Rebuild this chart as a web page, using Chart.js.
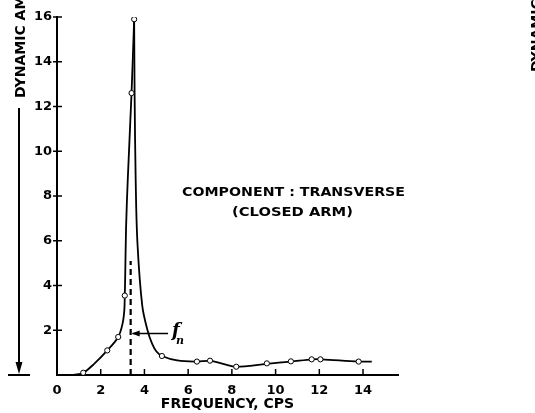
<!DOCTYPE html>
<html>
<head>
<meta charset="utf-8">
<script src="https://cdn.jsdelivr.net/npm/chart.js@4.4.0/dist/chart.umd.min.js"></script>
<style>
    html, body { margin: 0; padding: 0; background: #fff; }
    #wrap { width: 535px; height: 413px; }
</style>
</head>
<body>
<div id="wrap"><canvas id="chart" width="535" height="413"></canvas></div>
<script>
// Measured points (circles)
const pointFreq = [1.2, 2.3, 2.8, 3.1, 3.41, 3.53, 4.8, 6.4, 7.0, 8.2, 9.6, 10.7, 11.65, 12.05, 13.8];
const pointAmp  = [0.1, 1.1, 1.7, 3.55, 12.6, 15.9, 0.85, 0.6, 0.64, 0.37, 0.52, 0.61, 0.7, 0.7, 0.6];

// Faired response curve (rising side, then falling side)
const riseFreq = [0.76, 1.2, 1.7, 2.3, 2.8, 3.0, 3.08, 3.1, 3.12, 3.16, 3.24, 3.41, 3.53];
const riseAmp  = [0, 0.1, 0.5, 1.1, 1.7, 2.3, 2.9, 3.55, 4.4, 6.6, 8.8, 12.6, 15.9];
const fallFreq = [3.53, 3.55, 3.6, 3.68, 3.9, 4.14, 4.35, 4.55, 4.8, 5.5, 6.4, 7.0, 7.6, 8.2, 9.6, 10.7, 11.7, 12.1, 13.8, 14.4];
const fallAmp  = [15.9, 12.6, 8.7, 5.9, 3.1, 2, 1.4, 1.05, 0.85, 0.65, 0.6, 0.63, 0.5, 0.37, 0.5, 0.6, 0.7, 0.7, 0.6, 0.6];

// Tick labels
const xTicks = [0, 2, 4, 6, 8, 10, 12, 14];
const yTicks = [2, 4, 6, 8, 10, 12, 14, 16];

// Natural frequency marker
const naturalFreq = 3.37;
const naturalLineTop = 5.1;
const fnArrowY = 1.86;
const fnArrowFrom = 5.08;

const titleLines = ['COMPONENT : TRANSVERSE', '(CLOSED ARM)'];
const xTitle = 'FREQUENCY, CPS';
const yTitle = 'DYNAMIC AMPLIFICATION';

const FONT = '"DejaVu Sans", sans-serif';

function toXY(xs, ys) {
    return xs.map((v, i) => ({ x: v, y: ys[i] }));
}

function curve(xs, ys) {
    return {
        data: toXY(xs, ys),
        showLine: true,
        borderColor: '#000',
        borderWidth: 1.8,
        pointRadius: 0,
        tension: 0.35,
        order: 1
    };
}

// draw text stretched to a given width, centred on cx
function fitText(ctx, text, cx, cy, width) {
    const w = ctx.measureText(text).width;
    ctx.save();
    ctx.translate(cx, cy);
    ctx.scale(width / w, 1);
    ctx.textAlign = 'center';
    ctx.textBaseline = 'middle';
    ctx.fillText(text, 0, 0);
    ctx.restore();
}

const decorations = {
    id: 'decorations',
    afterDraw(chart) {
        const { ctx, chartArea } = chart;
        const x = chart.scales.x;
        const y = chart.scales.y;
        const line = (x1, y1, x2, y2) => {
            ctx.beginPath();
            ctx.moveTo(x1, y1);
            ctx.lineTo(x2, y2);
            ctx.stroke();
        };
        ctx.save();
        ctx.strokeStyle = '#000';
        ctx.fillStyle = '#000';

        // inward tick marks
        ctx.lineWidth = 1.5;
        xTicks.forEach(v => {
            if (v === 0) return;
            const px = x.getPixelForValue(v);
            line(px, chartArea.bottom, px, chartArea.bottom - 6);
        });
        yTicks.forEach(v => {
            const py = y.getPixelForValue(v);
            line(chartArea.left - 4, py, chartArea.left + 5, py);
        });

        // dashed line at natural frequency
        const fx = x.getPixelForValue(naturalFreq);
        ctx.lineWidth = 2.2;
        ctx.setLineDash([6, 4]);
        line(fx, chartArea.bottom, fx, y.getPixelForValue(naturalLineTop));
        ctx.setLineDash([]);

        // arrow pointing to it
        const ay = y.getPixelForValue(fnArrowY);
        const ax = x.getPixelForValue(fnArrowFrom);
        ctx.lineWidth = 1.5;
        line(ax, ay, fx + 2, ay);
        ctx.beginPath();
        ctx.moveTo(fx + 1, ay);
        ctx.lineTo(fx + 9, ay - 3);
        ctx.lineTo(fx + 9, ay + 3);
        ctx.closePath();
        ctx.fill();
        ctx.font = 'italic bold 18px "DejaVu Serif", serif';
        ctx.textAlign = 'left';
        ctx.textBaseline = 'alphabetic';
        ctx.fillText('f', ax + 4, ay + 3);
        ctx.font = 'italic bold 11px "DejaVu Serif", serif';
        ctx.fillText('n', ax + 8, ay + 11);

        // chart caption
        ctx.font = 'bold 12px ' + FONT;
        fitText(ctx, titleLines[0], 293.5, 193, 223);
        fitText(ctx, titleLines[1], 292.5, 213, 121);

        // left-hand amplitude arrow
        ctx.lineWidth = 2;
        line(19, 108, 19, 366);
        ctx.beginPath();
        ctx.moveTo(19, 374);
        ctx.lineTo(15.5, 362);
        ctx.lineTo(22.5, 362);
        ctx.closePath();
        ctx.fill();
        line(8, chartArea.bottom, 30, chartArea.bottom);

        // rotated axis title
        ctx.font = 'bold 14px ' + FONT;
        ctx.save();
        ctx.translate(21, 98);
        ctx.rotate(-Math.PI / 2);
        ctx.textAlign = 'left';
        ctx.textBaseline = 'middle';
        ctx.fillText(yTitle, 0, 0);
        ctx.restore();

        // edge of the neighbouring chart
        ctx.save();
        ctx.translate(537.5, 72);
        ctx.rotate(-Math.PI / 2);
        ctx.textAlign = 'left';
        ctx.textBaseline = 'middle';
        ctx.fillText('DYNAMIC', 0, 0);
        ctx.restore();

        ctx.restore();
    }
};

new Chart(document.getElementById('chart'), {
    type: 'scatter',
    data: {
        datasets: [
            {
                data: toXY(pointFreq, pointAmp),
                pointRadius: 2.6,
                pointBackgroundColor: '#fff',
                pointBorderColor: '#000',
                pointBorderWidth: 1,
                showLine: false,
                order: 0
            },
            curve(riseFreq, riseAmp),
            curve(fallFreq, fallAmp)
        ]
    },
    options: {
        responsive: false,
        animation: false,
        devicePixelRatio: 1,
        layout: { padding: { left: 0, top: 17, right: 137, bottom: 0 } },
        plugins: {
            legend: { display: false },
            tooltip: { enabled: false }
        },
        scales: {
            x: {
                type: 'linear',
                min: 0,
                max: 15.6,
                afterBuildTicks: scale => { scale.ticks = xTicks.map(v => ({ value: v })); },
                afterFit: scale => { scale.height = 38; },
                grid: { display: false, drawTicks: false },
                border: { display: true, color: '#000', width: 2 },
                ticks: {
                    color: '#000',
                    padding: 8,
                    font: { family: FONT, size: 13, weight: 'bold' }
                },
                title: {
                    display: true,
                    text: xTitle,
                    color: '#000',
                    padding: 0,
                    font: { family: FONT, size: 14, weight: 'bold' }
                }
            },
            y: {
                type: 'linear',
                min: 0,
                max: 16,
                afterBuildTicks: scale => { scale.ticks = yTicks.map(v => ({ value: v })); },
                afterFit: scale => { scale.width = 57; },
                grid: { display: false, drawTicks: false },
                border: { display: true, color: '#000', width: 2 },
                ticks: {
                    color: '#000',
                    padding: 5,
                    font: { family: FONT, size: 13, weight: 'bold' }
                }
            }
        }
    },
    plugins: [decorations]
});
</script>
</body>
</html>
